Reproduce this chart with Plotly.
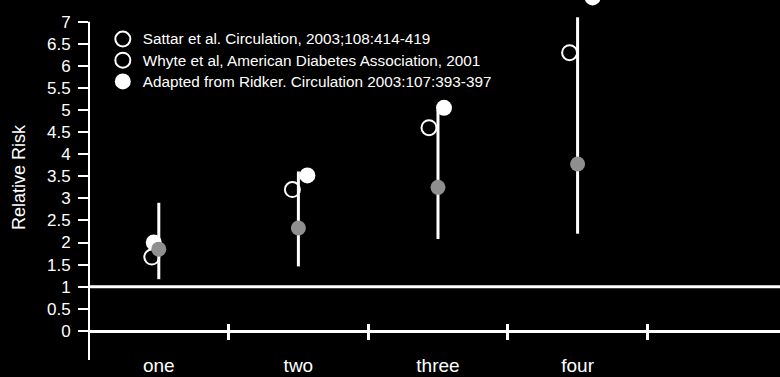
import numpy as np
import plotly.graph_objects as go

# ---------------- data ----------------
categories = ["one", "two", "three", "four"]
y_ticks = [0, 0.5, 1, 1.5, 2, 2.5, 3, 3.5, 4, 4.5, 5, 5.5, 6, 6.5, 7]

sattar_rr = [1.67, 3.2, 4.6, 6.3]
whyte_rr = [1.85, 2.33, 3.25, 3.78]
whyte_lo = [1.17, 1.46, 2.08, 2.2]
whyte_hi = [2.9, 3.61, 5.0, 7.1]
ridker_rr = [2.0, 3.52, 5.05, 7.55]

names = [
    "Sattar et al. Circulation, 2003;108:414-419",
    "Whyte et al, American Diabetes Association, 2001",
    "Adapted from Ridker. Circulation 2003:107:393-397",
]
y_title = "Relative Risk"

# ---------------- styling / layout ----------------
W, H = 780, 377
ML, MR, MT, MB = 89, 0, 0, 17
PW, PH = W - ML - MR, H - MT - MB
PX_PER_UNIT = 44.16
Y_MIN = -0.66
Y_RANGE = [Y_MIN, Y_MIN + PH / PX_PER_UNIT]
Y_AXIS_TOP = 7
X_RANGE = [0.5, 5.45]
px_per_x = PW / (X_RANGE[1] - X_RANGE[0])
sattar_dx_px = [-7, -6, -9, -8]
ridker_dx_px = [-5, 9, 6, 15]

xc = np.arange(1, len(categories) + 1, dtype=float)
x_sattar = xc + np.array(sattar_dx_px) / px_per_x
x_ridker = xc + np.array(ridker_dx_px) / px_per_x

FONT = "Liberation Sans, Arial, sans-serif"
WHITE = "#ffffff"
GRAY = "#8f8f8f"
LEGEND_TEXT_PX = 15.3


def legend_label(s):
    return f'<span style="font-size:{LEGEND_TEXT_PX}px">{s}</span>'


wy = np.array(whyte_rr)
err_plus = np.array(whyte_hi) - wy
err_minus = wy - np.array(whyte_lo)

fig = go.Figure()

fig.add_trace(go.Scatter(
    x=x_sattar, y=sattar_rr, mode="markers", name=legend_label(names[0]),
    marker=dict(symbol="circle-open", size=15, color=WHITE, line=dict(width=2, color=WHITE)),
    legendrank=1,
))
fig.add_trace(go.Scatter(
    x=x_ridker, y=ridker_rr, mode="markers", name=legend_label(names[2]),
    marker=dict(symbol="circle", size=16, color=WHITE, line=dict(width=0)),
    legendrank=3,
))
fig.add_trace(go.Scatter(
    x=xc, y=whyte_rr, mode="markers", name=names[1], showlegend=False,
    marker=dict(symbol="circle", size=15, color=GRAY, line=dict(width=0)),
    error_y=dict(type="data", symmetric=False, array=err_plus, arrayminus=err_minus,
                 color=WHITE, thickness=3, width=0),
))
# legend entry for Whyte (drawn as open circle in the reference legend)
fig.add_trace(go.Scatter(
    x=[None], y=[None], mode="markers", name=legend_label(names[1]),
    marker=dict(symbol="circle-open", size=15, color=WHITE, line=dict(width=2, color=WHITE)),
    legendrank=2,
))

# y axis line (stops at the top tick, 7) and reference line at relative risk = 1
fig.add_shape(type="line", xref="paper", x0=0, x1=0, yref="y", y0=Y_RANGE[0], y1=Y_AXIS_TOP,
              line=dict(color=WHITE, width=2), layer="above")
fig.add_shape(type="line", xref="paper", x0=0, x1=1, yref="y", y0=1, y1=1,
              line=dict(color=WHITE, width=3), layer="above")

zero_pos = (0 - Y_RANGE[0]) / (Y_RANGE[1] - Y_RANGE[0])
boundaries = list(xc + 0.5)

fig.add_annotation(
    text=y_title, textangle=-90, xref="paper", yref="paper",
    x=(19 - ML) / PW, y=(MT + PH - 177) / PH, xanchor="center", yanchor="middle",
    showarrow=False, font=dict(size=18, color=WHITE, family=FONT),
)

fig.update_layout(
    width=W, height=H,
    margin=dict(l=ML, r=MR, t=MT, b=MB, autoexpand=False),
    paper_bgcolor="#000000", plot_bgcolor="#000000",
    font=dict(family=FONT, color=WHITE),
    showlegend=True,
    legend=dict(
        x=0.02, y=1 - 23.4 / PH, xanchor="left", yanchor="top",
        bgcolor="rgba(0,0,0,0)", font=dict(size=14, color=WHITE, family=FONT),
        itemsizing="trace", tracegroupgap=0,
    ),
    xaxis=dict(
        range=X_RANGE, tickmode="array", tickvals=xc, ticktext=categories,
        anchor="free", position=8 / PH,
        showline=False, showgrid=False, zeroline=False, ticks="",
        tickfont=dict(size=19, color=WHITE, family=FONT), automargin=False,
    ),
    xaxis2=dict(
        overlaying="x", anchor="free", position=zero_pos, side="bottom",
        range=X_RANGE, tickmode="array", tickvals=boundaries, showticklabels=False,
        showline=True, linecolor=WHITE, linewidth=3, showgrid=False, zeroline=False,
        ticks="outside", ticklen=7, tickwidth=3, tickcolor=WHITE,
    ),
    xaxis3=dict(
        overlaying="x", anchor="free", position=zero_pos, side="bottom",
        range=X_RANGE, tickmode="array", tickvals=boundaries, showticklabels=False,
        showline=False, showgrid=False, zeroline=False,
        ticks="inside", ticklen=7, tickwidth=3, tickcolor=WHITE,
    ),
    yaxis=dict(
        range=Y_RANGE, tickmode="array", tickvals=y_ticks,
        showline=False, showgrid=False, zeroline=False,
        ticks="outside", ticklen=10, tickwidth=2, tickcolor=WHITE,
        tickfont=dict(size=17, color=WHITE, family=FONT), ticklabelstandoff=4,
        automargin=False,
    ),
)

# attach invisible traces to the overlay axes so they render
fig.add_trace(go.Scatter(x=[None], y=[None], xaxis="x2", yaxis="y", showlegend=False, hoverinfo="skip"))
fig.add_trace(go.Scatter(x=[None], y=[None], xaxis="x3", yaxis="y", showlegend=False, hoverinfo="skip"))

fig.write_html(
    "out.html",
    config={"displayModeBar": False},
    post_script="document.body.style.margin='0';document.body.style.background='#000';"
                "document.documentElement.style.background='#000';",
)
